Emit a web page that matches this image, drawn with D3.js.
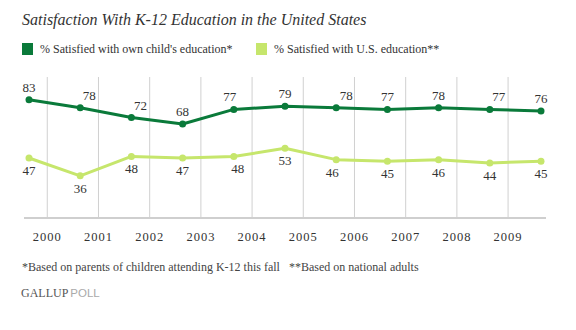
<!DOCTYPE html>
<html>
<head>
<meta charset="utf-8">
<script src="https://cdn.jsdelivr.net/npm/d3@7"></script>
<style>
  body { margin: 0; background: #fff; }
  svg { display: block; font-family: "Liberation Serif", serif; }
</style>
</head>
<body>
<div class="chart"></div>
<script>
// survey years (August polls) and results
const surveyYears = [1999, 2000, 2001, 2002, 2003, 2004, 2005, 2006, 2007, 2008, 2009];
const ownChild = [83, 78, 72, 68, 77, 79, 78, 77, 78, 77, 76];
const usEducation = [47, 36, 48, 47, 48, 53, 46, 45, 46, 44, 45];
const tickYears = [2000, 2001, 2002, 2003, 2004, 2005, 2006, 2007, 2008, 2009];

// small horizontal nudges so labels don't sit on the line
const topNudge = [0, 9, 9, 0, -4, 0, 10, 0, 0, 9, 0];
const bottomNudge = [0, 0, 0, 0, 4, 0, -4, 0, 0, 0, 0];

const dark = '#0a7a3a';
const light = '#c6e66c';

const width = 576, height = 330;
const svg = d3.select('.chart')
  .append('svg')
    .attr('width', width)
    .attr('height', height);

let xScale = d3.scaleLinear()
  .domain([1999, 2009])
  .range([29, 541]);
// tick lines fall a little after each survey point
const tickShift = -0.643;

let yScale = d3.scaleLinear()
  .domain([10, 97])
  .range([218, 77]);

// title
svg.append('text')
  .attr('x', 22)
  .attr('y', 25)
  .style('font-style', 'italic')
  .style('font-size', '16px')
  .style('fill', '#333')
  .text('Satisfaction With K-12 Education in the United States');

// legend
const legend = [
  {label: "% Satisfied with own child's education*", color: dark, x: 22},
  {label: '% Satisfied with U.S. education**', color: light, x: 256}
];
const lg = svg.append('g').selectAll('g')
  .data(legend)
  .join('g')
  .attr('transform', d => `translate(${d.x}, 43)`);
lg.append('rect')
  .attr('width', 11)
  .attr('height', 12)
  .attr('fill', d => d.color);
lg.append('text')
  .attr('x', 18)
  .attr('y', 10)
  .style('font-size', '12px')
  .style('fill', '#333')
  .text(d => d.label);

// vertical gridlines
svg.append('g')
  .selectAll('line')
  .data(tickYears)
  .join('line')
    .attr('x1', d => xScale(d + tickShift))
    .attr('x2', d => xScale(d + tickShift))
    .attr('y1', yScale(97))
    .attr('y2', yScale(10))
    .attr('stroke', '#d0d0d0')
    .attr('stroke-width', 1);

// baseline
svg.append('line')
  .attr('x1', 24)
  .attr('x2', 546)
  .attr('y1', yScale(10))
  .attr('y2', yScale(10))
  .attr('stroke', '#cfcfcf')
  .attr('stroke-width', 2);

// year labels
svg.append('g')
  .selectAll('text')
  .data(tickYears)
  .join('text')
    .attr('x', d => xScale(d + tickShift))
    .attr('y', 241)
    .attr('text-anchor', 'middle')
    .style('font-size', '12.5px')
    .style('letter-spacing', '1px')
    .style('fill', '#333')
    .text(d => d);

const line = d3.line()
  .x((d, i) => xScale(surveyYears[i]))
  .y(d => yScale(d));

function drawSeries(values, color, r) {
  const g = svg.append('g');
  g.append('path')
    .datum(values)
    .attr('d', line)
    .attr('fill', 'none')
    .attr('stroke', color)
    .attr('stroke-width', 3)
    .attr('stroke-linejoin', 'round');
  g.selectAll('circle')
    .data(values)
    .join('circle')
      .attr('cx', (d, i) => xScale(surveyYears[i]))
      .attr('cy', d => yScale(d))
      .attr('r', r)
      .attr('fill', color);
}

drawSeries(usEducation, light, 3.5);
drawSeries(ownChild, dark, 3.5);

// value labels
svg.append('g')
  .selectAll('text')
  .data(ownChild)
  .join('text')
    .attr('x', (d, i) => xScale(surveyYears[i]) + topNudge[i])
    .attr('y', d => yScale(d) - 8)
    .attr('text-anchor', 'middle')
    .style('font-size', '13px')
    .style('fill', '#333')
    .text(d => d);

svg.append('g')
  .selectAll('text')
  .data(usEducation)
  .join('text')
    .attr('x', (d, i) => xScale(surveyYears[i]) + bottomNudge[i])
    .attr('y', d => yScale(d) + 17)
    .attr('text-anchor', 'middle')
    .style('font-size', '13px')
    .style('fill', '#333')
    .text(d => d);

// footnote
svg.append('text')
  .attr('x', 22)
  .attr('y', 271)
  .style('font-size', '12px')
  .style('fill', '#444')
  .attr('xml:space', 'preserve')
  .text('*Based on parents of children attending K-12 this fall   **Based on national adults');

// branding
const brand = svg.append('text')
  .attr('x', 21)
  .attr('y', 297);
brand.append('tspan')
  .style('font-size', '12px')
  .style('fill', '#555')
  .text('GALLUP');
brand.append('tspan')
  .attr('dx', 2)
  .style('font-family', '"Liberation Sans", sans-serif')
  .style('font-size', '11.5px')
  .style('fill', '#aaa')
  .text('POLL');
</script>
</body>
</html>
